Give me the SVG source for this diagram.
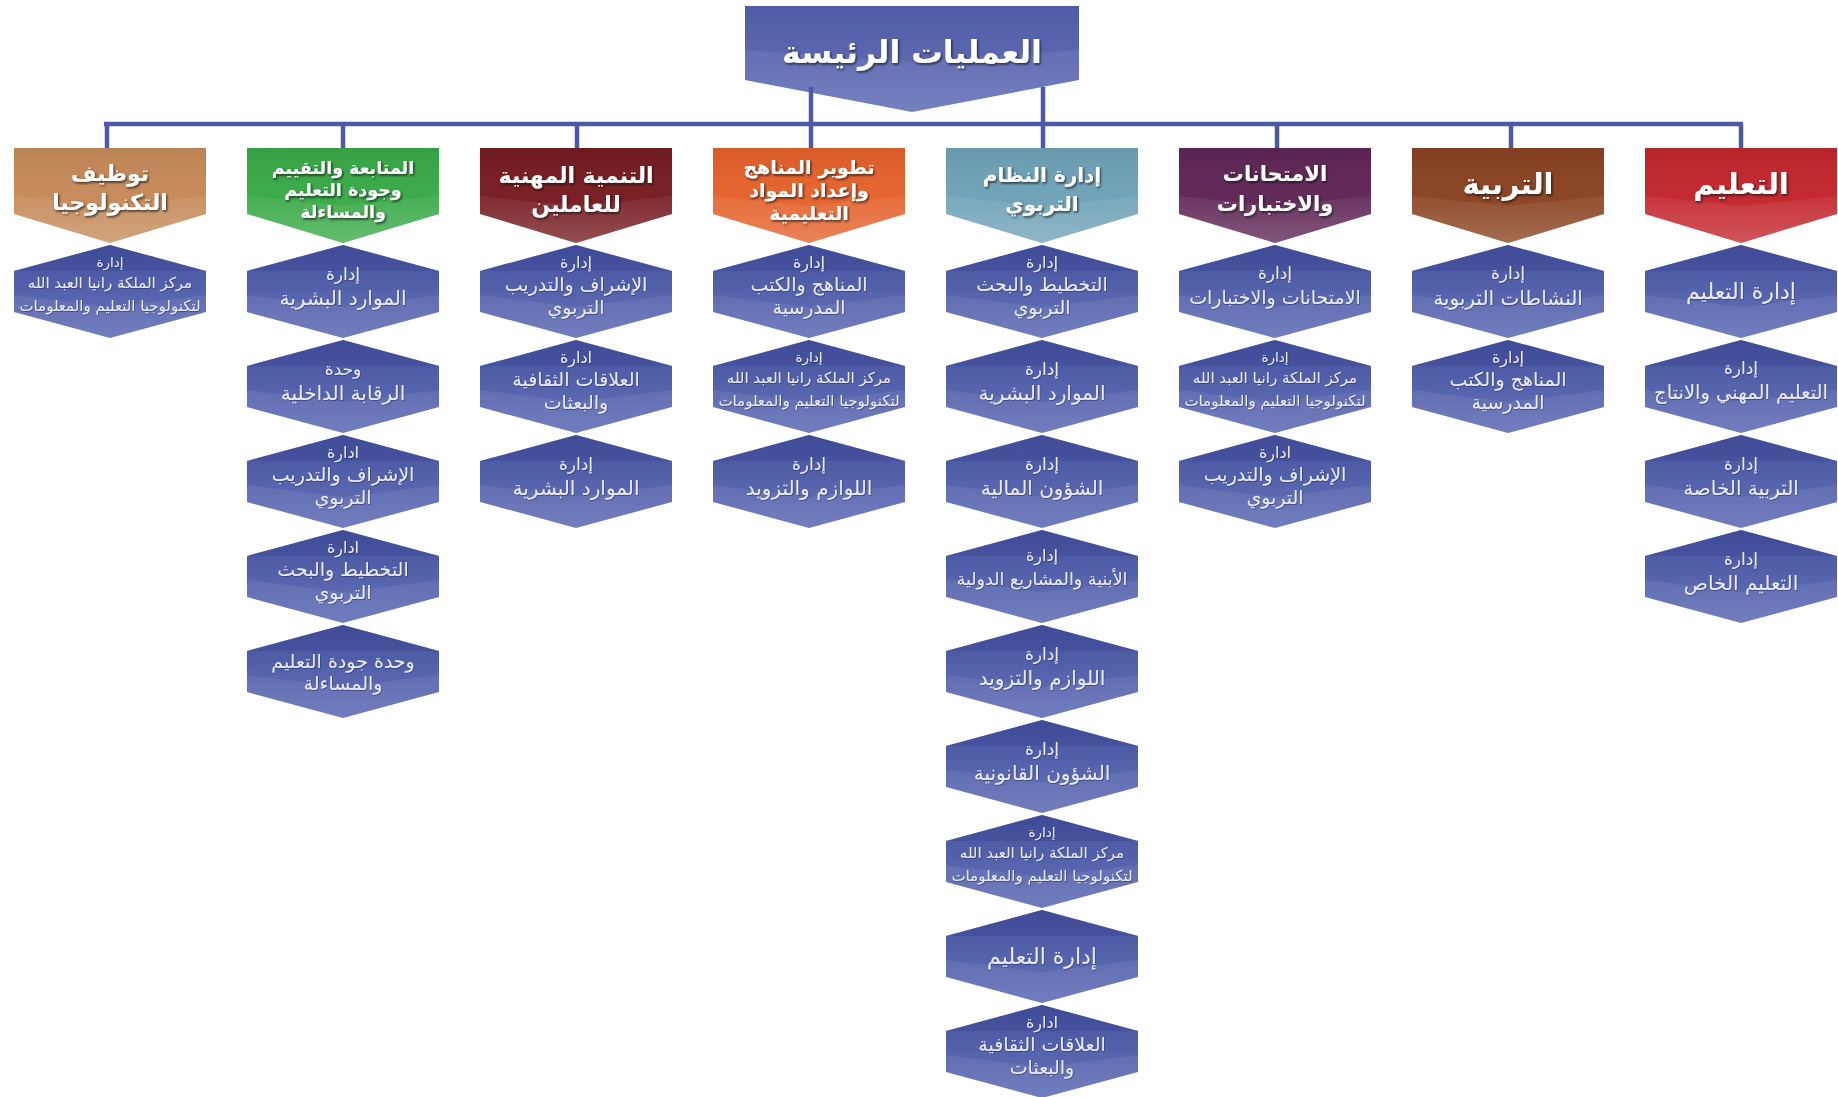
<svg xmlns="http://www.w3.org/2000/svg" width="1838" height="1097" viewBox="0 0 1838 1097">
<defs>
  <linearGradient id="hexGrad" x1="0" y1="0" x2="0" y2="1">
    <stop offset="0" stop-color="#44509c"/>
    <stop offset="0.45" stop-color="#5361ab"/>
    <stop offset="1" stop-color="#6874b9"/>
  </linearGradient>
  <linearGradient id="hdrShade" x1="0" y1="0" x2="0" y2="1">
    <stop offset="0" stop-color="#000" stop-opacity="0.06"/>
    <stop offset="0.55" stop-color="#fff" stop-opacity="0.02"/>
    <stop offset="1" stop-color="#fff" stop-opacity="0.16"/>
  </linearGradient>
  <linearGradient id="topGrad" x1="0" y1="0" x2="0" y2="1">
    <stop offset="0" stop-color="#4f5ca7"/>
    <stop offset="0.6" stop-color="#5d6ab2"/>
    <stop offset="1" stop-color="#6c78bb"/>
  </linearGradient>
  <path id="hex" d="M0,0 L96,26 L96,67 L0,93 L-96,67 L-96,26 Z"/>
  <path id="hexTop" d="M0,0 L96,26 L-96,26 Z"/>
  <path id="hexBot" d="M-96,50 L0,62 L96,50 L96,67 L0,93 L-96,67 Z"/>
  <path id="hdr" d="M-96,0 L96,0 L96,66 L0,95 L-96,66 Z"/>
  <path id="hdrLow" d="M-96,48 L0,58 L96,48 L96,66 L0,95 L-96,66 Z"/>
  <filter id="ts" x="-10%" y="-30%" width="120%" height="160%">
    <feDropShadow dx="1.2" dy="1.5" stdDeviation="0.9" flood-color="#101010" flood-opacity="0.75"/>
  </filter>
  <filter id="ts2" x="-10%" y="-30%" width="120%" height="160%">
    <feDropShadow dx="0.6" dy="0.8" stdDeviation="0.6" flood-color="#1c2250" flood-opacity="0.6"/>
  </filter>
  <style>
    .hexbody { fill: url(#hexGrad); }
    .hextop { fill: #3c4791; opacity: 0.4; }
    .hexbot { fill: #ffffff; opacity: 0.07; }
    .hshade { fill: url(#hdrShade); }
    .hlow { fill: #ffffff; opacity: 0.07; }
    .ht { font-family: "DejaVu Sans", "Noto Sans", sans-serif; font-weight: bold; fill: #ffffff; text-anchor: middle; direction: rtl; filter: url(#ts); }
    .ct { font-family: "DejaVu Sans", "Noto Sans", sans-serif; fill: #e8eaf6; text-anchor: middle; direction: rtl; filter: url(#ts2); }
    .a { font-size: 17px; }
    .a3 { font-size: 16px; }
    .m { font-size: 20px; }
    .m3 { font-size: 19px; }
    .s { font-size: 15px; }
    .conn { stroke: #4c5aa5; stroke-width: 4.5; fill: none; }
  </style>
</defs>
<rect width="1838" height="1097" fill="#ffffff"/>

<g id="root">
  <path d="M745,6 L1079,6 L1079,80 L912,112 L745,80 Z" fill="url(#topGrad)"/>
  <path d="M745,50 L912,62 L1079,50 L1079,80 L912,112 L745,80 Z" fill="#ffffff" opacity="0.07"/>
  <text class="ht" x="912" y="63" font-size="31.5">العمليات الرئيسة</text>
</g>

<g id="connectors">
  <line class="conn" x1="104" y1="124" x2="1743" y2="124"/>
  <line class="conn" x1="107" y1="124" x2="107" y2="149"/>
  <line class="conn" x1="343" y1="124" x2="343" y2="149"/>
  <line class="conn" x1="577" y1="124" x2="577" y2="149"/>
  <line class="conn" x1="811" y1="87" x2="811" y2="149"/>
  <line class="conn" x1="1043" y1="87" x2="1043" y2="149"/>
  <line class="conn" x1="1277" y1="124" x2="1277" y2="149"/>
  <line class="conn" x1="1511" y1="124" x2="1511" y2="149"/>
  <line class="conn" x1="1741" y1="124" x2="1741" y2="149"/>
</g>

<!-- Column 1: Tan -->
<g id="col1-header" transform="translate(110,148)">
  <use href="#hdr" fill="#c68a59"/><use href="#hdr" class="hshade"/><use href="#hdrLow" class="hlow"/>
  <text class="ht" x="0" y="33" font-size="22">توظيف</text>
  <text class="ht" x="0" y="62" font-size="22">التكنولوجيا</text>
</g>
<g id="col1-n1" transform="translate(110,245)">
  <use href="#hex" class="hexbody"/><use href="#hexTop" class="hextop"/><use href="#hexBot" class="hexbot"/>
  <text class="ct" x="0" y="22" font-size="13.5">إدارة</text>
  <text class="ct s" x="0" y="43">مركز الملكة رانيا العبد الله</text>
  <text class="ct s" x="0" y="66">لتكنولوجيا التعليم والمعلومات</text>
</g>

<!-- Column 2: Green -->
<g id="col2-header" transform="translate(343,148)">
  <use href="#hdr" fill="#38aa47"/><use href="#hdr" class="hshade"/><use href="#hdrLow" class="hlow"/>
  <text class="ht" x="0" y="26" font-size="17.5">المتابعة والتقييم</text>
  <text class="ht" x="0" y="48" font-size="17.5">وجودة التعليم</text>
  <text class="ht" x="0" y="70" font-size="17.5">والمساءلة</text>
</g>
<g id="col2-n1" transform="translate(343,245)">
  <use href="#hex" class="hexbody"/><use href="#hexTop" class="hextop"/><use href="#hexBot" class="hexbot"/>
  <text class="ct a" x="0" y="35">إدارة</text>
  <text class="ct m" x="0" y="60">الموارد البشرية</text>
</g>
<g id="col2-n2" transform="translate(343,340)">
  <use href="#hex" class="hexbody"/><use href="#hexTop" class="hextop"/><use href="#hexBot" class="hexbot"/>
  <text class="ct a" x="0" y="35">وحدة</text>
  <text class="ct m" x="0" y="60">الرقابة الداخلية</text>
</g>
<g id="col2-n3" transform="translate(343,435)">
  <use href="#hex" class="hexbody"/><use href="#hexTop" class="hextop"/><use href="#hexBot" class="hexbot"/>
  <text class="ct a3" x="0" y="23">ادارة</text>
  <text class="ct m3" x="0" y="46">الإشراف والتدريب</text>
  <text class="ct m3" x="0" y="69">التربوي</text>
</g>
<g id="col2-n4" transform="translate(343,530)">
  <use href="#hex" class="hexbody"/><use href="#hexTop" class="hextop"/><use href="#hexBot" class="hexbot"/>
  <text class="ct a3" x="0" y="23">ادارة</text>
  <text class="ct m3" x="0" y="46">التخطيط والبحث</text>
  <text class="ct m3" x="0" y="69">التربوي</text>
</g>
<g id="col2-n5" transform="translate(343,625)">
  <use href="#hex" class="hexbody"/><use href="#hexTop" class="hextop"/><use href="#hexBot" class="hexbot"/>
  <text class="ct" x="0" y="43" font-size="19">وحدة جودة التعليم</text>
  <text class="ct" x="0" y="65" font-size="19">والمساءلة</text>
</g>

<!-- Column 3: Maroon -->
<g id="col3-header" transform="translate(576,148)">
  <use href="#hdr" fill="#761c21"/><use href="#hdr" class="hshade"/><use href="#hdrLow" class="hlow"/>
  <text class="ht" x="0" y="35" font-size="22">التنمية المهنية</text>
  <text class="ht" x="0" y="64" font-size="22">للعاملين</text>
</g>
<g id="col3-n1" transform="translate(576,245)">
  <use href="#hex" class="hexbody"/><use href="#hexTop" class="hextop"/><use href="#hexBot" class="hexbot"/>
  <text class="ct a3" x="0" y="23">إدارة</text>
  <text class="ct m3" x="0" y="46">الإشراف والتدريب</text>
  <text class="ct m3" x="0" y="69">التربوي</text>
</g>
<g id="col3-n2" transform="translate(576,340)">
  <use href="#hex" class="hexbody"/><use href="#hexTop" class="hextop"/><use href="#hexBot" class="hexbot"/>
  <text class="ct a3" x="0" y="23">ادارة</text>
  <text class="ct m3" x="0" y="46">العلاقات الثقافية</text>
  <text class="ct m3" x="0" y="69">والبعثات</text>
</g>
<g id="col3-n3" transform="translate(576,435)">
  <use href="#hex" class="hexbody"/><use href="#hexTop" class="hextop"/><use href="#hexBot" class="hexbot"/>
  <text class="ct a" x="0" y="35">إدارة</text>
  <text class="ct m" x="0" y="60">الموارد البشرية</text>
</g>

<!-- Column 4: Orange -->
<g id="col4-header" transform="translate(809,148)">
  <use href="#hdr" fill="#e5622b"/><use href="#hdr" class="hshade"/><use href="#hdrLow" class="hlow"/>
  <text class="ht" x="0" y="26" font-size="19">تطوير المناهج</text>
  <text class="ht" x="0" y="49" font-size="19">وإعداد المواد</text>
  <text class="ht" x="0" y="72" font-size="19">التعليمية</text>
</g>
<g id="col4-n1" transform="translate(809,245)">
  <use href="#hex" class="hexbody"/><use href="#hexTop" class="hextop"/><use href="#hexBot" class="hexbot"/>
  <text class="ct a3" x="0" y="23">إدارة</text>
  <text class="ct m3" x="0" y="46">المناهج والكتب</text>
  <text class="ct m3" x="0" y="69">المدرسية</text>
</g>
<g id="col4-n2" transform="translate(809,340)">
  <use href="#hex" class="hexbody"/><use href="#hexTop" class="hextop"/><use href="#hexBot" class="hexbot"/>
  <text class="ct" x="0" y="22" font-size="13.5">إدارة</text>
  <text class="ct s" x="0" y="43">مركز الملكة رانيا العبد الله</text>
  <text class="ct s" x="0" y="66">لتكنولوجيا التعليم والمعلومات</text>
</g>
<g id="col4-n3" transform="translate(809,435)">
  <use href="#hex" class="hexbody"/><use href="#hexTop" class="hextop"/><use href="#hexBot" class="hexbot"/>
  <text class="ct a" x="0" y="35">إدارة</text>
  <text class="ct m" x="0" y="60">اللوازم والتزويد</text>
</g>

<!-- Column 5: Light blue -->
<g id="col5-header" transform="translate(1042,148)">
  <use href="#hdr" fill="#6fa2b8"/><use href="#hdr" class="hshade"/><use href="#hdrLow" class="hlow"/>
  <text class="ht" x="0" y="34" font-size="20">إدارة النظام</text>
  <text class="ht" x="0" y="63" font-size="20">التربوي</text>
</g>
<g id="col5-n1" transform="translate(1042,245)">
  <use href="#hex" class="hexbody"/><use href="#hexTop" class="hextop"/><use href="#hexBot" class="hexbot"/>
  <text class="ct a3" x="0" y="23">إدارة</text>
  <text class="ct m3" x="0" y="46">التخطيط والبحث</text>
  <text class="ct m3" x="0" y="69">التربوي</text>
</g>
<g id="col5-n2" transform="translate(1042,340)">
  <use href="#hex" class="hexbody"/><use href="#hexTop" class="hextop"/><use href="#hexBot" class="hexbot"/>
  <text class="ct a" x="0" y="35">إدارة</text>
  <text class="ct m" x="0" y="60">الموارد البشرية</text>
</g>
<g id="col5-n3" transform="translate(1042,435)">
  <use href="#hex" class="hexbody"/><use href="#hexTop" class="hextop"/><use href="#hexBot" class="hexbot"/>
  <text class="ct a" x="0" y="35">إدارة</text>
  <text class="ct m" x="0" y="60">الشؤون المالية</text>
</g>
<g id="col5-n4" transform="translate(1042,530)">
  <use href="#hex" class="hexbody"/><use href="#hexTop" class="hextop"/><use href="#hexBot" class="hexbot"/>
  <text class="ct" x="0" y="31" font-size="16">إدارة</text>
  <text class="ct" x="0" y="55" font-size="17.5">الأبنية والمشاريع الدولية</text>
</g>
<g id="col5-n5" transform="translate(1042,625)">
  <use href="#hex" class="hexbody"/><use href="#hexTop" class="hextop"/><use href="#hexBot" class="hexbot"/>
  <text class="ct a" x="0" y="35">إدارة</text>
  <text class="ct m" x="0" y="60">اللوازم والتزويد</text>
</g>
<g id="col5-n6" transform="translate(1042,720)">
  <use href="#hex" class="hexbody"/><use href="#hexTop" class="hextop"/><use href="#hexBot" class="hexbot"/>
  <text class="ct a" x="0" y="35">إدارة</text>
  <text class="ct m" x="0" y="60">الشؤون القانونية</text>
</g>
<g id="col5-n7" transform="translate(1042,815)">
  <use href="#hex" class="hexbody"/><use href="#hexTop" class="hextop"/><use href="#hexBot" class="hexbot"/>
  <text class="ct" x="0" y="22" font-size="13.5">إدارة</text>
  <text class="ct s" x="0" y="43">مركز الملكة رانيا العبد الله</text>
  <text class="ct s" x="0" y="66">لتكنولوجيا التعليم والمعلومات</text>
</g>
<g id="col5-n8" transform="translate(1042,910)">
  <use href="#hex" class="hexbody"/><use href="#hexTop" class="hextop"/><use href="#hexBot" class="hexbot"/>
  <text class="ct" x="0" y="54" font-size="22">إدارة التعليم</text>
</g>
<g id="col5-n9" transform="translate(1042,1005)">
  <use href="#hex" class="hexbody"/><use href="#hexTop" class="hextop"/><use href="#hexBot" class="hexbot"/>
  <text class="ct a3" x="0" y="23">ادارة</text>
  <text class="ct m3" x="0" y="46">العلاقات الثقافية</text>
  <text class="ct m3" x="0" y="69">والبعثات</text>
</g>

<!-- Column 6: Purple -->
<g id="col6-header" transform="translate(1275,148)">
  <use href="#hdr" fill="#5f2656"/><use href="#hdr" class="hshade"/><use href="#hdrLow" class="hlow"/>
  <text class="ht" x="0" y="33" font-size="21">الامتحانات</text>
  <text class="ht" x="0" y="63" font-size="21">والاختبارات</text>
</g>
<g id="col6-n1" transform="translate(1275,245)">
  <use href="#hex" class="hexbody"/><use href="#hexTop" class="hextop"/><use href="#hexBot" class="hexbot"/>
  <text class="ct a" x="0" y="34">إدارة</text>
  <text class="ct" x="0" y="59" font-size="19">الامتحانات والاختبارات</text>
</g>
<g id="col6-n2" transform="translate(1275,340)">
  <use href="#hex" class="hexbody"/><use href="#hexTop" class="hextop"/><use href="#hexBot" class="hexbot"/>
  <text class="ct" x="0" y="22" font-size="13.5">إدارة</text>
  <text class="ct s" x="0" y="43">مركز الملكة رانيا العبد الله</text>
  <text class="ct s" x="0" y="66">لتكنولوجيا التعليم والمعلومات</text>
</g>
<g id="col6-n3" transform="translate(1275,435)">
  <use href="#hex" class="hexbody"/><use href="#hexTop" class="hextop"/><use href="#hexBot" class="hexbot"/>
  <text class="ct a3" x="0" y="23">ادارة</text>
  <text class="ct m3" x="0" y="46">الإشراف والتدريب</text>
  <text class="ct m3" x="0" y="69">التربوي</text>
</g>

<!-- Column 7: Brown -->
<g id="col7-header" transform="translate(1508,148)">
  <use href="#hdr" fill="#8a4321"/><use href="#hdr" class="hshade"/><use href="#hdrLow" class="hlow"/>
  <text class="ht" x="0" y="46" font-size="29">التربية</text>
</g>
<g id="col7-n1" transform="translate(1508,245)">
  <use href="#hex" class="hexbody"/><use href="#hexTop" class="hextop"/><use href="#hexBot" class="hexbot"/>
  <text class="ct a" x="0" y="34">إدارة</text>
  <text class="ct m" x="0" y="60">النشاطات التربوية</text>
</g>
<g id="col7-n2" transform="translate(1508,340)">
  <use href="#hex" class="hexbody"/><use href="#hexTop" class="hextop"/><use href="#hexBot" class="hexbot"/>
  <text class="ct a3" x="0" y="23">إدارة</text>
  <text class="ct m3" x="0" y="46">المناهج والكتب</text>
  <text class="ct m3" x="0" y="69">المدرسية</text>
</g>

<!-- Column 8: Red -->
<g id="col8-header" transform="translate(1741,148)">
  <use href="#hdr" fill="#c3262c"/><use href="#hdr" class="hshade"/><use href="#hdrLow" class="hlow"/>
  <text class="ht" x="0" y="46" font-size="29">التعليم</text>
</g>
<g id="col8-n1" transform="translate(1741,245)">
  <use href="#hex" class="hexbody"/><use href="#hexTop" class="hextop"/><use href="#hexBot" class="hexbot"/>
  <text class="ct" x="0" y="54" font-size="22">إدارة التعليم</text>
</g>
<g id="col8-n2" transform="translate(1741,340)">
  <use href="#hex" class="hexbody"/><use href="#hexTop" class="hextop"/><use href="#hexBot" class="hexbot"/>
  <text class="ct a" x="0" y="34">إدارة</text>
  <text class="ct" x="0" y="59" font-size="19.5">التعليم المهني والانتاج</text>
</g>
<g id="col8-n3" transform="translate(1741,435)">
  <use href="#hex" class="hexbody"/><use href="#hexTop" class="hextop"/><use href="#hexBot" class="hexbot"/>
  <text class="ct a" x="0" y="35">إدارة</text>
  <text class="ct m" x="0" y="60">التربية الخاصة</text>
</g>
<g id="col8-n4" transform="translate(1741,530)">
  <use href="#hex" class="hexbody"/><use href="#hexTop" class="hextop"/><use href="#hexBot" class="hexbot"/>
  <text class="ct a" x="0" y="35">إدارة</text>
  <text class="ct m" x="0" y="60">التعليم الخاص</text>
</g>
</svg>
